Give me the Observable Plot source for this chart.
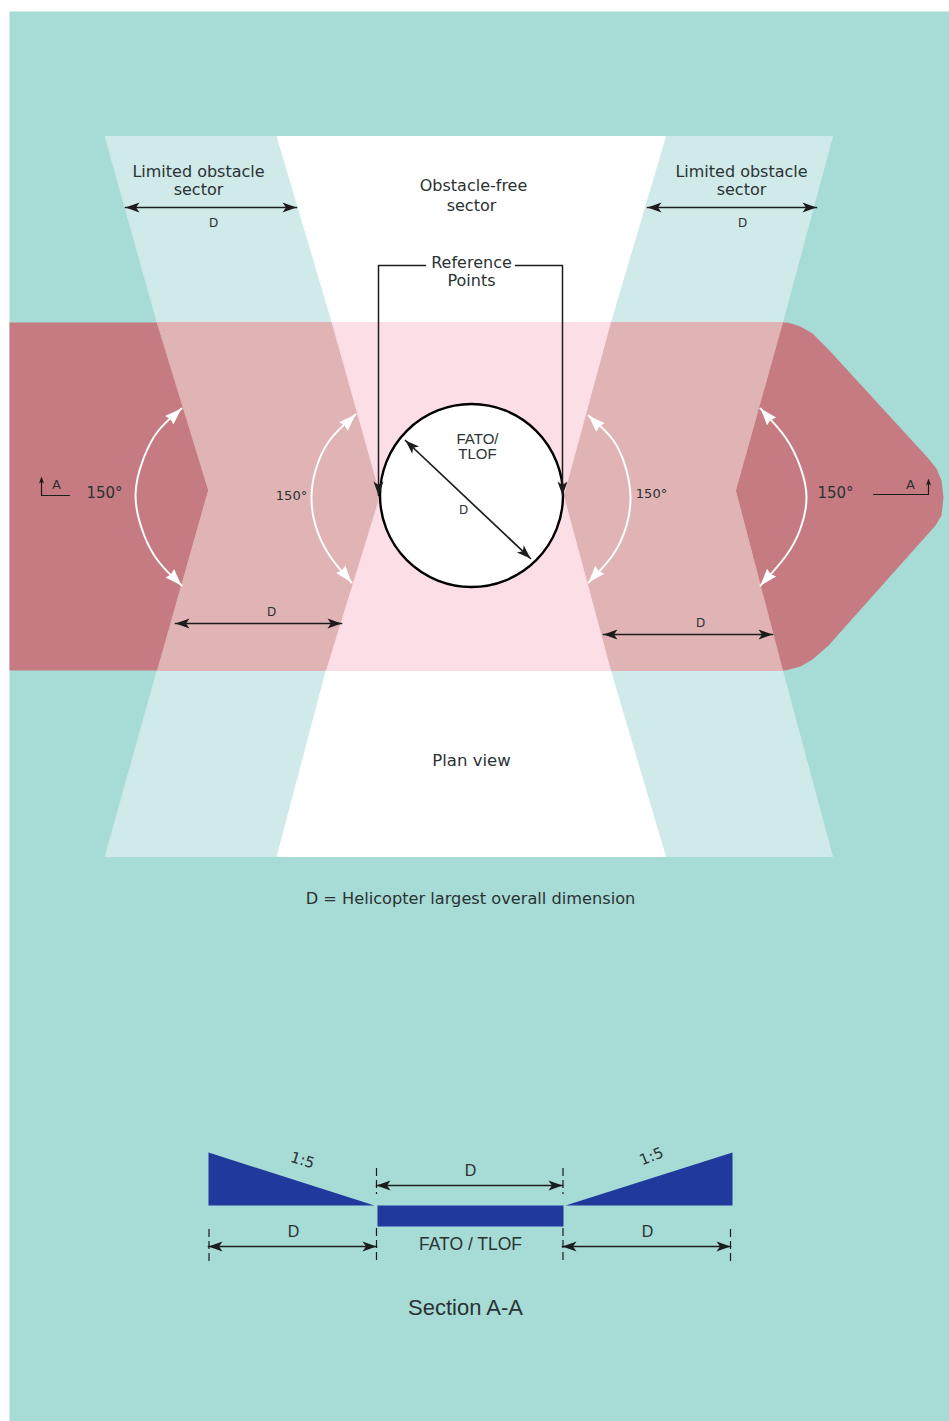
<!DOCTYPE html>
<html>
<head>
<meta charset="utf-8">
<script src="https://cdn.jsdelivr.net/npm/d3@7"></script>
<script src="https://cdn.jsdelivr.net/npm/@observablehq/plot@0.6"></script>
<style>html,body{margin:0;padding:0;background:#fff}svg{display:block}</style>
</head>
<body>
<div id="chart"></div>
<script>
// Regions, as [x, y]
const page = [[9,11],[949,11],[949,1421],[9,1421]];
const redBand = [[9,322],[787,322],[800,326],[812,333],[828,349],[927,457],[936,468],[941,480],[943,497],[941,515],[935,525],[927,534],[828,645],[812,659],[800,666],[785,670],[9,670]];
const freeTop = [[277,136],[665,136],[610,322],[332,322]];
const freeMid = [[332,322],[610,322],[563,495],[610,670],[326,670],[380,495]];
const freeBottom = [[326,670],[610,670],[665,856],[277,856]];
const limTopL = [[105,136],[277,136],[332,322],[157,322]];
const limTopR = [[665,136],[832,136],[782,322],[610,322]];
const limMidL = [[157,322],[332,322],[380,495],[326,670],[157,670],[208,490]];
const limMidR = [[610,322],[782,322],[735,490],[782,670],[610,670],[563,495]];
const limBotL = [[157,670],[326,670],[277,856],[105,856]];
const limBotR = [[610,670],[782,670],[832,856],[665,856]];
const wedgeL = [[208,1152],[374,1205],[208,1205]];
const deck = [[377,1205],[563,1205],[563,1226],[377,1226]];
const wedgeR = [[565,1205],[732,1152],[732,1205]];
const circle = [{x:471,y:495}];

// Double-headed arcs
const arcs = [
  [[181,408],[158,430],[143,458],[135,495],[143,533],[158,561],[181,585]],
  [[355,414],[329,440],[315,470],[311,497],[315,525],[329,555],[351,582]],
  [[588,415],[613,440],[626,470],[630,497],[626,525],[612,555],[588,582]],
  [[760,408],[785,437],[800,467],[806,497],[800,528],[785,556],[760,585]]
];

// Dimension arrows: x1, y1, x2, y2
const dims = [
  [125,207,296,207],[647,207,816,207],
  [175,623,341,623],[603,634,772,634],
  [405,440,530,558],
  [376,1185,562,1185],[208,1246,376,1246],[562,1246,730,1246]
];
const bracketL = [[425,265],[378,265],[378,495]];
const bracketR = [[515,265],[562,265],[562,495]];
const sectionMarkL = [[41,478],[41,495],[69,495]];
const sectionMarkR = [[873,494],[928,494],[928,480]];
const dashTicks = [
  [208.5,1229,1264],[376,1168,1194],[376,1228,1264],
  [562.5,1168,1194],[562.5,1228,1264],[730,1229,1264]
];

// Texts: label, x, y, size
const verdanaLabels = [
  ["Limited obstacle",198,171,16],["sector",198,189,16],
  ["Limited obstacle",741,171,16],["sector",741,189,16],
  ["Obstacle-free",473,185,16],["sector",471,205,16],
  ["D",213,223,12],["D",742,223,12],
  ["Reference",471,262,16],["Points",471,280,16],
  ["A",56,484,13],["A",910,484,13],
  ["150°",104,493,15],["150°",291,495,13],["150°",651,493,13],["150°",835,493,15],
  ["D",463,510,12],["D",271,612,12],["D",700,623,12],
  ["Plan view",471,760,16.5],
  ["D = Helicopter largest overall dimension",470,898,16.2]
];
const sansLabels = [
  ["FATO/",477,439,15],["TLOF",477,454,15],
  ["D",293,1231,16],["D",470,1170,16],["D",647,1231,16],
  ["FATO / TLOF",470,1244,17.5],
  ["Section A-A",465,1307,22]
];
const slopeLabels = [["1:5",302,1160,17],["1:5",651,1156,-22]];

const colors = {page:"#a6dbd6", red:"#c67b82", limited:"#cfeae8", limitedOnRed:"#e0b3b5",
  free:"#ffffff", freeOnRed:"#fcdee7", navy:"#1f399c", ink:"#1c1c1c", text:"#2b3233"};

const px = d => d[0], py = d => d[1];
const poly = (pts, fill, edge) => Plot.line(pts, {x:px, y:py, fill, stroke:edge ? fill : "none", strokeWidth:1, curve:"linear-closed"});
// Arrowhead polygon pointing from `from` to `tip`
function head(tip, from, len, wid, notch = 0.75) {
  const a = Math.atan2(tip[1]-from[1], tip[0]-from[0]), c = Math.cos(a), s = Math.sin(a);
  const p = (l, w) => [tip[0]-l*c-w*s, tip[1]-l*s+w*c];
  return [tip, p(len, wid/2), p(len*notch, 0), p(len, -wid/2)];
}

const marks = [
  poly(page, colors.page),
  poly(redBand, colors.red),
  ...[limTopL, limTopR, limBotL, limBotR].map(p => poly(p, colors.limited, true)),
  ...[limMidL, limMidR].map(p => poly(p, colors.limitedOnRed, true)),
  poly(freeTop, colors.free, true), poly(freeBottom, colors.free, true), poly(freeMid, colors.freeOnRed, true),
  poly(wedgeL, colors.navy), poly(deck, colors.navy), poly(wedgeR, colors.navy),
  Plot.dot(circle, {x:"x", y:"y", r:91.5, fill:"#fff", stroke:"#000", strokeWidth:2.4}),
  ...arcs.flatMap(a => [
    Plot.line(a, {x:px, y:py, stroke:"#fff", strokeWidth:2, curve:"natural"}),
    poly(head(a[0], a[1], 17, 12, 0.9), "#fff"),
    poly(head(a[a.length-1], a[a.length-2], 17, 12, 0.9), "#fff")
  ]),
  ...dims.flatMap(([x1,y1,x2,y2]) => [
    Plot.line([[x1,y1],[x2,y2]], {x:px, y:py, stroke:colors.ink, strokeWidth:1.7}),
    poly(head([x1,y1],[x2,y2],14,10), colors.ink),
    poly(head([x2,y2],[x1,y1],14,10), colors.ink)
  ]),
  ...[bracketL, bracketR].flatMap(b => [
    Plot.line(b, {x:px, y:py, stroke:colors.ink, strokeWidth:1.5}),
    poly(head(b[2],b[1],14,10), colors.ink)
  ]),
  ...[sectionMarkL, sectionMarkR].map(b => Plot.line(b, {x:px, y:py, stroke:colors.ink, strokeWidth:1.2})),
  poly(head([41,476],[41,490],7,5), colors.ink),
  poly(head([928,478],[928,490],7,5), colors.ink),
  Plot.ruleX(dashTicks, {x:d=>d[0], y1:d=>d[1], y2:d=>d[2], stroke:colors.ink, strokeWidth:1.2, strokeDasharray:"8 4"}),
  ...d3.groups(verdanaLabels, d=>d[3]).map(([size, rows]) =>
    Plot.text(rows, {x:d=>d[1], y:d=>d[2], text:d=>d[0], fontSize:size, fontFamily:"DejaVu Sans", fill:colors.text})),
  ...d3.groups(sansLabels, d=>d[3]).map(([size, rows]) =>
    Plot.text(rows, {x:d=>d[1], y:d=>d[2], text:d=>d[0], fontSize:size, fontFamily:"Liberation Sans", fill:colors.text})),
  ...slopeLabels.map(d =>
    Plot.text([d], {x:r=>r[1], y:r=>r[2], text:r=>r[0], rotate:d[3], fontSize:15, fontFamily:"DejaVu Sans", fill:colors.text}))
];

const chart = Plot.plot({
  width:949, height:1421, margin:0,
  x:{domain:[0,949], range:[0,949], axis:null},
  y:{domain:[0,1421], range:[0,1421], axis:null},
  style:{background:"#fff"},
  marks
});
document.getElementById("chart").append(chart);
</script>
</body>
</html>
